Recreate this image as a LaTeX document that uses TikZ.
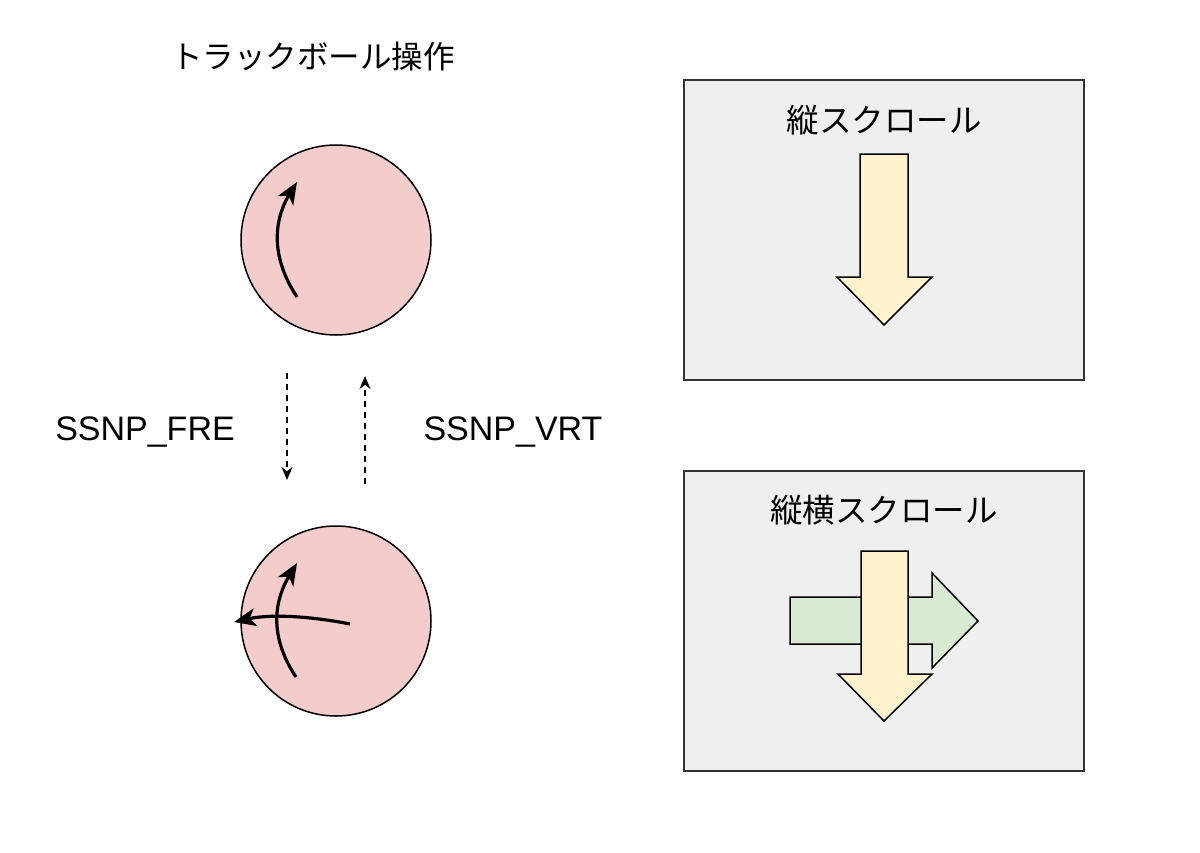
\documentclass[tikz,border=0pt]{standalone}
\usepackage{fontspec}
\setmainfont{Liberation Sans}
\newfontfamily\jpfont{Noto Sans CJK JP}
\usetikzlibrary{arrows.meta}
\definecolor{ballfill}{HTML}{F4CCCC}
\definecolor{panelfill}{HTML}{EFEFEF}
\definecolor{yellowfill}{HTML}{FFF2CC}
\definecolor{greenfill}{HTML}{D9EAD3}
\tikzset{
  ball/.style={circle, draw=black, line width=1.5pt, fill=ballfill, minimum size=190pt, inner sep=0pt},
  panel/.style={rectangle, draw=black!80, line width=1.5pt, fill=panelfill, minimum width=400pt, minimum height=300pt, inner sep=0pt},
  jptext/.style={font=\jpfont\fontsize{32.5}{38}\selectfont, inner sep=0pt},
  titletext/.style={font=\jpfont\fontsize{31.5}{38}\selectfont, inner sep=0pt},
  lattext/.style={font=\fontsize{34}{40}\selectfont, inner sep=0pt},
  motion/.style={line width=3.2pt, -{Stealth[length=22pt,width=18pt,inset=6pt]}},
  transition/.style={line width=1.6pt, dash pattern=on 6pt off 5pt, -{Stealth[length=13pt,width=11pt]}},
  arrowshape/.style={draw=black, line width=1.5pt, line join=miter},
}
\begin{document}
\begin{tikzpicture}[x=1pt,y=-1pt]
\useasboundingbox (0,0) rectangle (1200,852);
\fill[white] (0,0) rectangle (1200,852);

% title
\node[titletext] (title) at (313,57) {トラックボール操作};

% trackballs
\node[ball] (ballA) at (336,240) {};
\node[ball] (ballB) at (336,621) {};

% motion arrows in ball A
\coordinate (a1s) at (297,297);
\coordinate (a1e) at (297,182);
\draw[motion] (a1s) .. controls (266,250) and (278,213) .. (a1e);

% motion arrows in ball B
\coordinate (b1s) at (296,677);
\coordinate (b1e) at (297,563);
\draw[motion] (b1s) .. controls (266,632) and (277,596) .. (b1e);
\coordinate (b2s) at (350,624);
\coordinate (b2e) at (234,622);
\draw[motion] (b2s) .. controls (310,616) and (270,614) .. (b2e);

% transitions
\coordinate (t1s) at (287,373);
\coordinate (t1e) at (287,480);
\draw[transition] (t1s) -- (t1e);
\coordinate (t2s) at (365,484);
\coordinate (t2e) at (365,376);
\draw[transition] (t2s) -- (t2e);

\node[lattext] (fre) at (145,432) {SSNP\_FRE};
\node[lattext] (vrt) at (513,432) {SSNP\_VRT};

% panels
\node[panel] (panelV) at (884,230) {};
\node[jptext] (labelV) at (884,120) {縦スクロール};
\node[panel] (panelVH) at (884,621) {};
\node[jptext] (labelVH) at (884,510) {縦横スクロール};

% vertical arrow (panel 1)
\draw[arrowshape, fill=yellowfill] (860,154) -- (908,154) -- (908,277) -- (932,277) -- (884,325) -- (837,277) -- (860,277) -- cycle;

% horizontal arrow (panel 2)
\draw[arrowshape, fill=greenfill] (790,597) -- (932,597) -- (932,573) -- (978,621) -- (932,668) -- (932,644) -- (790,644) -- cycle;
% vertical arrow (panel 2)
\draw[arrowshape, fill=yellowfill] (861,551) -- (908,551) -- (908,674) -- (932,674) -- (884,721) -- (838,674) -- (861,674) -- cycle;
\end{tikzpicture}
\end{document}
